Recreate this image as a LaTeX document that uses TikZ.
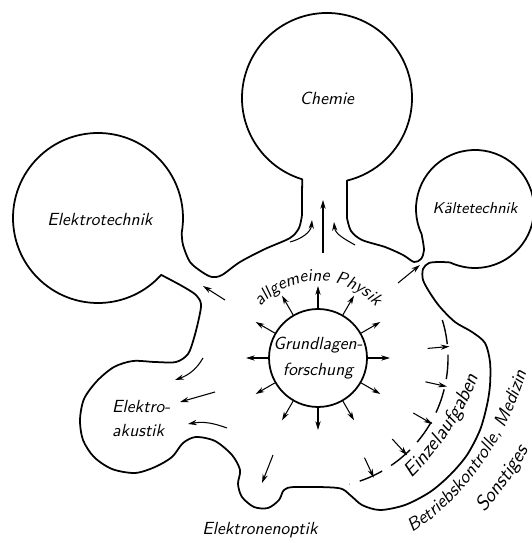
\documentclass[tikz,border=0pt]{standalone}
\usepackage{fontspec}
\usetikzlibrary{arrows.meta, calc, decorations.text}

\begin{document}
\begin{tikzpicture}[x=0.02cm, y=0.02cm, >={Stealth[length=5pt, width=3pt]}, font=\sffamily\itshape]
    \tikzstyle{blob} = [draw, line width=1pt, line join=round]
    \tikzstyle{flow} = [->, line width=0.6pt]
    \tikzstyle{along} = [decorate, decoration={text along path, text align=center}]

    \useasboundingbox (0,0) rectangle (531,543);

    % Define nodes
    \node (chemie) at (327,445) {Chemie};
    \node (etechnik) at (100,323) {Elektrotechnik};
    \node[font=\sffamily\itshape\small] (kaelte) at (475,335) {Kältetechnik};
    \node[align=left, anchor=west] (akustik) at (106,124.5) {Elektro-\\[2pt]akustik};
    \node (optik) at (260,13) {Elektronenoptik};
    \node[circle, draw, line width=1pt, minimum size=1.96cm, inner sep=-4pt, align=center] (grund) at (318,185) {Grundlagen-\\[3pt]forschung};

    % Draw outline
    \draw[blob] (302,328) -- (302.15,363.71)
        arc[start angle=253, end angle=-76.4, radius=85]
        -- (347,325)
        -- plot[smooth] coordinates {(347,325) (351,312) (362,303) (385,296) (403,288) (414,281) (421,284) (424,293) (421.53,309.07)}
        arc[start angle=205, end angle=-115, radius=59]
        -- plot[smooth] coordinates {(450.07,280.53) (440,281) (429,280) (423,274) (423,263) (430,250) (440,236) (455,221) (472,211) (485,200) (490,181) (490,158) (487,138) (480,113) (467,88) (450,68) (430,51) (405,38) (380,33) (362,38) (350,48) (338,55) (295,56) (284,53) (279,43) (268,35) (254,36) (242,46) (238,59) (240,73) (232,88) (215,102) (196,106) (183,100) (172,86) (155,76) (135,70) (112,74) (94,86) (83,103) (80,123) (84,144) (97,162) (114,176) (133,182) (155,181) (176,181) (188,189) (194,205) (199,225) (201,239) (196,248) (182,257) (161.17,268.12)}
        arc[start angle=-42, end angle=-370, radius=85]
        -- plot[smooth] coordinates {(181.71,310.24) (183,298) (190,281) (202,271) (212,266) (222,268) (240,281) (265,294) (290,305) (299,315) (302,328)}
        -- cycle;

    % Draw arrows out of the centre
    \foreach \a in {0,30,...,330} {
        \coordinate (g\a) at ($(grund)+(\a:72)$);
        \draw[flow] (grund.\a) -- (g\a);
    }

    % Draw dashed arc
    \coordinate (d0) at ($(grund)+(17:130)$);
    \draw[line width=0.8pt, dash pattern=on 14pt off 6pt] (d0) arc[start angle=17, end angle=-76, radius=130];
    \foreach \a [count=\i] in {5,-12.5,-30,-47.5,-65} {
        \coordinate (p\i) at ($(grund)+(\a:110)$);
        \coordinate (q\i) at ($(grund)+(\a:132)$);
        \draw[flow] (p\i) -- (q\i);
    }

    % Draw arrows into the necks
    \coordinate (up0) at (323,290);
    \coordinate (up1) at (323,343);
    \coordinate (cl0) at (290,301);
    \coordinate (cl1) at (312,323);
    \coordinate (cr0) at (355,298);
    \coordinate (cr1) at (334,321);
    \coordinate (et0) at (225,243);
    \coordinate (et1) at (203,257);
    \coordinate (kt0) at (398,260);
    \coordinate (kt1) at (420,278);
    \draw[flow] (up0) -- (up1);
    \draw[flow] (cl0) to[out=15, in=-95] (cl1);
    \draw[flow] (cr0) to[out=150, in=-85] (cr1);
    \draw[flow] (et0) -- (et1);
    \draw[flow] (kt0) -- (kt1);

    % Draw arrows to the lower left
    \coordinate (ak0) at (203,185);
    \coordinate (ak1) at (175,163);
    \coordinate (ak2) at (215,151);
    \coordinate (ak3) at (180,141);
    \coordinate (ak4) at (227,115);
    \coordinate (ak5) at (188,119);
    \coordinate (eo0) at (273,88);
    \coordinate (eo1) at (262,60);
    \draw[flow] (ak0) to[out=-120, in=20] (ak1);
    \draw[flow] (ak2) -- (ak3);
    \draw[flow] (ak4) to[out=160, in=10] (ak5);
    \draw[flow] (eo0) -- (eo1);

    % Curved labels
    \coordinate (ph0) at ($(grund)+(160:77)$);
    \path[along, decoration={text={|\sffamily\itshape|allgemeine Physik}}]
        (ph0) arc[start angle=160, end angle=20, radius=77];
    \coordinate (ez0) at (404,58);
    \coordinate (ez1) at (481,176);
    \path[along, decoration={text={|\sffamily\itshape\fontsize{11.5}{14}\selectfont|Einzelaufgaben}}]
        (ez0) .. controls (434,84) and (470,134) .. (ez1);
    \coordinate (bk0) at (401,4);
    \coordinate (bk1) at (530,183);
    \path[along, decoration={text={|\sffamily\itshape\fontsize{10.5}{13}\selectfont|Betriebskontrolle, Medizin}}]
        (bk0) .. controls (446,27) and (505,88) .. (bk1);
    \coordinate (so0) at (481,27);
    \coordinate (so1) at (530.5,97);
    \path[along, decoration={text={|\sffamily\itshape\fontsize{11.5}{14}\selectfont|Sonstiges}}]
        (so0) .. controls (498,46) and (517,71) .. (so1);
\end{tikzpicture}
\end{document}
